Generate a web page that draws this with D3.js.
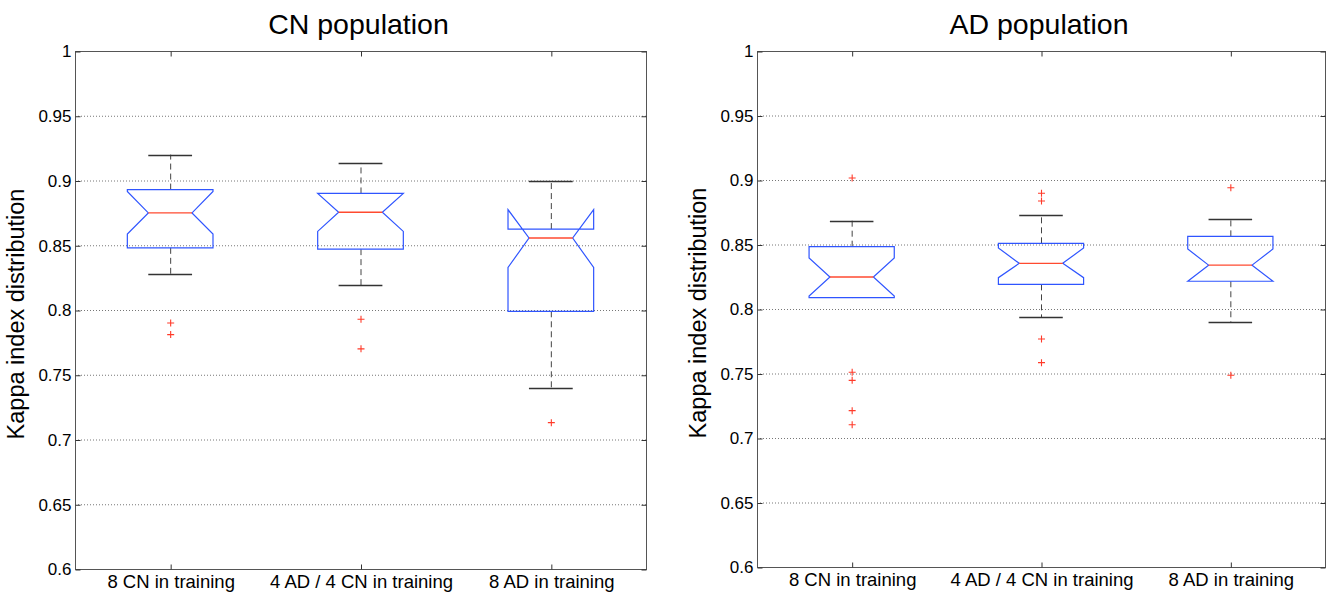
<!DOCTYPE html>
<html lang="en">
<head>
<meta charset="utf-8">
<script src="https://cdn.jsdelivr.net/npm/d3@7/dist/d3.min.js"></script>
<style>
    body { margin: 0; background: #fff; }
    svg text { font-family: "Liberation Sans", Arial, Helvetica, sans-serif; fill: #000; }
    .axis path { display: none; }
    .axis line { stroke: #333; }
    .grid line { stroke: #777; stroke-dasharray: 1,2; }
</style>
</head>
<body>
<script>
// chart values
const categories = ["8 CN in training", "4 AD / 4 CN in training", "8 AD in training"];
const yTicks = [0.6, 0.65, 0.7, 0.75, 0.8, 0.85, 0.9, 0.95, 1];

// CN population
const cnLowerWhisker = [0.828, 0.819, 0.740];
const cnQ1 = [0.848, 0.847, 0.799];
const cnMedian = [0.875, 0.8755, 0.8556];
const cnQ3 = [0.893, 0.890, 0.8625];
const cnUpperWhisker = [0.920, 0.9136, 0.8995];
const cnNotchLo = [0.8587, 0.8607, 0.8328];
const cnNotchHi = [0.8915, 0.890, 0.8775];
const cnOutliers = [[0.790, 0.781], [0.7928, 0.770], [0.713]];

// AD population
const adLowerWhisker = [0.8088, 0.7938, 0.790];
const adQ1 = [0.8088, 0.8191, 0.8215];
const adMedian = [0.8248, 0.8354, 0.834];
const adQ3 = [0.8483, 0.8509, 0.8563];
const adUpperWhisker = [0.8685, 0.8731, 0.870];
const adNotchLo = [0.810, 0.8243, 0.8215];
const adNotchHi = [0.8395, 0.8473, 0.8465];
const adOutliers = [[0.9016, 0.751, 0.7447, 0.7212, 0.7103], [0.8897, 0.8837, 0.7767, 0.7584], [0.894, 0.7486]];

let w = 1332;
let h = 597;

let svg = d3.select("body")
            .append("svg")
            .attr("width", w)
            .attr("height", h);

const drawPanel = (opts) => {
    let left = opts.left, right = opts.right, top = opts.top, bottom = opts.bottom;

    let xScale = d3.scalePoint()
                   .domain(categories)
                   .range([left, right])
                   .padding(0.5);
    let yScale = d3.scaleLinear()
                   .domain([0.6, 1])
                   .range([bottom, top]);

    let step = xScale.step();
    let halfBox = step * 0.225;
    let halfCap = step * 0.115;
    let inset = halfBox * 0.49;

    let g = svg.append("g");

    // grid
    g.append("g")
     .attr("class", "grid")
     .selectAll("line")
     .data(yTicks.slice(1, -1))
     .enter()
     .append("line")
     .attr("x1", left)
     .attr("x2", right)
     .attr("y1", (d) => yScale(d) + 0.5)
     .attr("y2", (d) => yScale(d) + 0.5);

    // frame
    g.append("rect")
     .attr("x", left + 0.5)
     .attr("y", top + 0.5)
     .attr("width", right - left)
     .attr("height", bottom - top)
     .attr("fill", "none")
     .attr("stroke", "#555");

    // axes with inward ticks
    g.append("g")
     .attr("class", "axis")
     .attr("transform", "translate(" + (left + 0.5) + ",0.5)")
     .call(d3.axisLeft(yScale).tickValues(yTicks).tickSizeInner(-5).tickSizeOuter(0)
             .tickPadding(4).tickFormat((d) => d))
     .selectAll("text")
     .attr("font-size", "17px");

    g.append("g")
     .attr("class", "axis")
     .attr("transform", "translate(" + (right + 0.5) + ",0.5)")
     .call(d3.axisRight(yScale).tickValues(yTicks).tickSizeInner(-5).tickSizeOuter(0).tickFormat(""));

    g.append("g")
     .attr("class", "axis")
     .attr("transform", "translate(0.5," + (bottom + 0.5) + ")")
     .call(d3.axisBottom(xScale).tickSizeInner(-5).tickSizeOuter(0).tickPadding(3))
     .selectAll("text")
     .attr("font-size", "18.5px")
     .attr("dy", "0.85em");

    g.append("g")
     .attr("class", "axis")
     .attr("transform", "translate(0.5," + (top + 0.5) + ")")
     .call(d3.axisTop(xScale).tickSizeInner(-5).tickSizeOuter(0).tickFormat(""));

    let rows = categories.map((c, i) => ({
        cat: c,
        lw: opts.lw[i], q1: opts.q1[i], med: opts.med[i], q3: opts.q3[i], uw: opts.uw[i],
        nlo: opts.nlo[i], nhi: opts.nhi[i], out: opts.out[i]
    }));

    let boxes = g.selectAll(".box")
                 .data(rows)
                 .enter()
                 .append("g")
                 .attr("class", "box");

    // whiskers
    boxes.append("line")
         .attr("x1", (d) => xScale(d.cat) + 0.5)
         .attr("x2", (d) => xScale(d.cat) + 0.5)
         .attr("y1", (d) => yScale(d.q3))
         .attr("y2", (d) => yScale(d.uw))
         .attr("stroke", "#444")
         .attr("stroke-dasharray", "6,4");
    boxes.append("line")
         .attr("x1", (d) => xScale(d.cat) + 0.5)
         .attr("x2", (d) => xScale(d.cat) + 0.5)
         .attr("y1", (d) => yScale(d.q1))
         .attr("y2", (d) => yScale(d.lw))
         .attr("stroke", "#444")
         .attr("stroke-dasharray", "6,4");

    // caps
    ["uw", "lw"].forEach((k) => {
        boxes.filter((d) => d[k] !== d.q1)
             .append("line")
             .attr("x1", (d) => xScale(d.cat) - halfCap)
             .attr("x2", (d) => xScale(d.cat) + halfCap)
             .attr("y1", (d) => Math.round(yScale(d[k])) + 0.5)
             .attr("y2", (d) => Math.round(yScale(d[k])) + 0.5)
             .attr("stroke", "#333")
             .attr("stroke-width", 1.3);
    });

    // notched box
    boxes.append("path")
         .attr("d", (d) => {
             let cx = xScale(d.cat);
             let l = cx - halfBox, r = cx + halfBox;
             let pts = [
                 [l, yScale(d.q1)], [l, yScale(d.nlo)], [l + inset, yScale(d.med)],
                 [l, yScale(d.nhi)], [l, yScale(d.q3)], [r, yScale(d.q3)],
                 [r, yScale(d.nhi)], [r - inset, yScale(d.med)], [r, yScale(d.nlo)],
                 [r, yScale(d.q1)]
             ];
             return d3.line()(pts) + "Z";
         })
         .attr("fill", "none")
         .attr("stroke", "#2f55ff")
         .attr("stroke-width", 1.2);

    // median
    boxes.append("line")
         .attr("x1", (d) => xScale(d.cat) - halfBox + inset)
         .attr("x2", (d) => xScale(d.cat) + halfBox - inset)
         .attr("y1", (d) => yScale(d.med))
         .attr("y2", (d) => yScale(d.med))
         .attr("stroke", "#ff4a30")
         .attr("stroke-width", 1.3);

    // outliers
    boxes.selectAll(".out")
         .data((d) => d.out.map((v) => ({ cat: d.cat, v: v })))
         .enter()
         .append("path")
         .attr("class", "out")
         .attr("d", (d) => {
             let x = xScale(d.cat) + 0.5, y = yScale(d.v);
             return "M" + (x - 3.5) + "," + y + "H" + (x + 3.5) + "M" + x + "," + (y - 3.5) + "V" + (y + 3.5);
         })
         .attr("stroke", "#ff3b2a")
         .attr("stroke-width", 1.1);

    // title
    svg.append("text")
       .attr("x", (left + right) / 2 - 2)
       .attr("y", 34)
       .attr("text-anchor", "middle")
       .attr("font-size", "28.5px")
       .text(opts.title);

    // y label
    svg.append("text")
       .attr("transform", "translate(" + (left - 51) + "," + ((top + bottom) / 2 + 4) + ") rotate(-90)")
       .attr("text-anchor", "middle")
       .attr("font-size", "23.5px")
       .text("Kappa index distribution");
};

drawPanel({
    title: "CN population",
    left: 75, right: 646, top: 51, bottom: 569,
    lw: cnLowerWhisker, q1: cnQ1, med: cnMedian, q3: cnQ3, uw: cnUpperWhisker,
    nlo: cnNotchLo, nhi: cnNotchHi, out: cnOutliers
});

drawPanel({
    title: "AD population",
    left: 757, right: 1325, top: 51, bottom: 567,
    lw: adLowerWhisker, q1: adQ1, med: adMedian, q3: adQ3, uw: adUpperWhisker,
    nlo: adNotchLo, nhi: adNotchHi, out: adOutliers
});
</script>
</body>
</html>
